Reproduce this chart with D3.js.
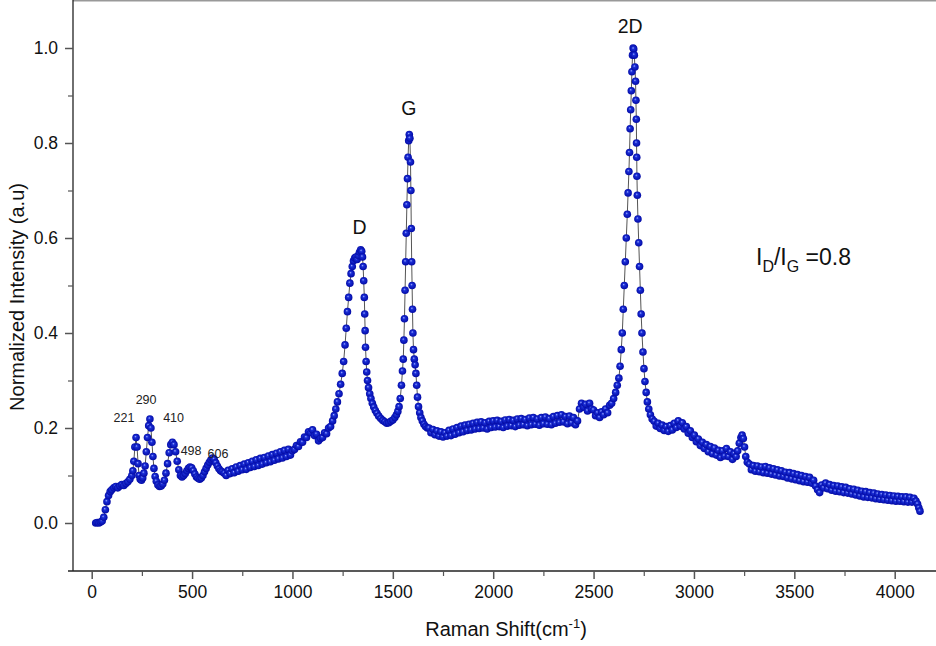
<!DOCTYPE html>
<html>
<head>
<meta charset="utf-8">
<script src="https://cdn.jsdelivr.net/npm/d3@7"></script>
<style>
  html, body { margin: 0; padding: 0; background: #fff; }
  svg { display: block; font-family: "Liberation Sans", Arial, sans-serif; }
</style>
</head>
<body>
<svg id="chart" width="936" height="646"></svg>
<script>
// ---- Data ----
const ramanShift = [
  20,28,36,44,52,60,68,76,84,92,100,110,120,130,140,150,160,170,180,190,200,
  205,210,215,221,226,231,236,242,248,254,260,266,272,278,284,290,295,300,305,310,316,322,330,338,346,354,362,370,378,386,394,402,410,418,426,434,442,450,458,466,474,482,490,498,506,514,522,530,538,546,554,562,570,578,586,594,602,610,618,626,634,642,650,660,
  670,680,690,700,710,720,730,740,750,760,770,780,790,800,810,820,830,840,850,860,870,880,890,900,910,920,930,940,950,960,970,980,990,1000,
  1010,1020,1030,1040,1050,1060,1070,1080,1090,1100,1110,1120,1130,1140,
  1150,1160,1170,1180,1190,1200,1208,1216,1224,1232,1240,1248,1255,1262,1268,1274,1280,1286,1292,1298,1304,1310,1316,1322,1328,1334,1340,1345,1349,1352,1355,1358,1360,1362,1364,1367,1370,1374,1379,1385,1391,1398,1405,1413,1421,1430,1440,1450,1460,1470,1480,1490,1500,
  1510,1518,1525,1531,1537,1543,1548,1552,1555,1558,1561,1564,1567,1570,1573,1576,1579,1582,1585,1588,1590,1592,1594,1596,1598,1600,1603,1607,1611,1615,1619,1623,1628,1634,1640,1647,1655,1663,1672,
  1680,1690,1700,1710,1720,1730,1740,1750,1760,1770,1780,1790,1800,1810,1820,1830,1840,1850,1860,1870,1880,1890,1900,1910,1920,1930,1940,1950,1960,1970,1980,1990,2000,2010,2020,2030,2040,2050,2060,2070,2080,2090,2100,2110,2120,2130,2140,2150,2160,2170,2180,2190,2200,2210,2220,2230,2240,2250,2260,2270,2280,2290,2300,2310,2320,2330,2340,2350,2360,2370,2380,2390,2400,2410,2420,
  2430,2440,2450,2460,2470,2480,2490,2500,2510,2520,2530,2540,2550,2560,2570,2580,2590,
  2600,2610,2618,2626,2632,2638,2643,2648,2653,2658,2663,2668,2672,2676,2679,2682,2685,2688,2691,2694,2697,2700,2703,2706,2709,2711,2713,2714,2715,2716,2718,2721,2725,2729,2733,2737,2741,2746,2751,2756,2762,2768,2775,2783,2792,
  2802,2812,2822,2832,2842,2852,2862,2872,2882,2892,2902,2912,2922,2932,2942,2952,2962,2972,2982,2992,3002,3012,3022,3032,3042,3052,3062,3072,3082,3092,3102,3112,3122,3132,3142,3152,3162,3172,3182,3192,3200,3210,
  3218,3226,3234,3240,3246,3252,3258,3266,
  3276,3286,3296,3306,3316,3326,3336,3346,3356,3366,3376,3386,3396,3406,3416,3426,3436,3446,3456,3466,3476,3486,3496,3506,3516,3526,3536,3546,3556,3566,3576,3586,3596,3606,3616,3626,3636,3646,3656,3666,3676,3686,3696,3706,3716,3726,3736,3746,3756,3766,3776,3786,3796,3806,3816,3826,3836,3846,3856,3866,3876,3886,3896,3906,3916,3926,3936,3946,3956,3966,3976,3986,3996,4006,4016,4026,4036,4046,4056,4066,4076,4086,4096,4106,
  4114,4120,4126
];
const intensity = [
  0.000,0.001,0.000,0.002,0.004,0.012,0.028,0.045,0.058,0.066,0.070,0.074,0.077,0.074,0.078,0.081,0.079,0.083,0.087,0.092,0.100,
  0.110,0.130,0.160,0.180,0.160,0.125,0.100,0.092,0.090,0.095,0.105,0.120,0.150,0.180,0.205,0.219,0.200,0.170,0.140,0.115,0.098,0.088,0.080,0.077,0.078,0.082,0.090,0.105,0.125,0.148,0.165,0.170,0.165,0.150,0.130,0.112,0.100,0.097,0.100,0.104,0.110,0.115,0.118,0.116,0.110,0.103,0.097,0.094,0.092,0.095,0.100,0.108,0.115,0.122,0.128,0.133,0.137,0.134,0.127,0.120,0.114,0.110,0.108,0.105,
  0.100,0.111,0.104,0.114,0.106,0.118,0.109,0.121,0.112,0.124,0.113,0.127,0.117,0.130,0.119,0.133,0.121,0.136,0.124,0.138,0.127,0.141,0.129,0.144,0.132,0.147,0.135,0.150,0.137,0.153,0.140,0.155,0.143,0.152,
  0.155,0.163,0.161,0.171,0.170,0.181,0.180,0.192,0.190,0.196,0.184,0.187,0.173,0.178,
  0.180,0.190,0.188,0.200,0.203,0.215,0.226,0.240,0.255,0.272,0.292,0.315,0.340,0.375,0.410,0.445,0.475,0.505,0.525,0.540,0.552,0.558,0.560,0.555,0.563,0.570,0.575,0.572,0.560,0.540,0.510,0.475,0.440,0.405,0.370,0.340,0.318,0.300,0.285,0.272,0.262,0.252,0.244,0.237,0.231,0.225,0.220,0.216,0.213,0.210,0.211,0.214,0.217,
  0.222,0.228,0.235,0.245,0.262,0.290,0.320,0.345,0.385,0.430,0.490,0.550,0.610,0.670,0.725,0.770,0.805,0.818,0.810,0.760,0.700,0.620,0.550,0.500,0.450,0.400,0.365,0.345,0.333,0.315,0.290,0.265,0.245,0.232,0.222,0.215,0.208,0.203,0.200,
  0.200,0.190,0.197,0.186,0.194,0.183,0.192,0.181,0.190,0.183,
  0.195,0.184,0.198,0.187,0.201,0.190,0.204,0.192,0.206,0.195,
  0.208,0.196,0.210,0.198,0.212,0.199,0.213,0.200,0.211,0.198,
  0.214,0.201,0.215,0.202,0.216,0.203,0.214,0.201,0.217,0.204,
  0.218,0.205,0.216,0.203,0.219,0.206,0.220,0.207,0.218,0.205,
  0.221,0.207,0.222,0.208,0.219,0.206,0.222,0.209,0.223,0.208,
  0.220,0.207,0.224,0.210,0.226,0.212,0.228,0.213,0.224,0.209,
  0.225,0.211,0.222,0.207,0.215,
  0.240,0.252,0.244,0.250,0.236,0.252,0.240,0.238,0.226,0.232,0.222,0.234,0.228,0.240,0.232,0.248,0.252,
  0.262,0.275,0.290,0.305,0.330,0.365,0.400,0.450,0.500,0.550,0.600,0.650,0.695,0.740,0.780,0.830,0.870,0.910,0.950,0.985,1.000,0.998,0.985,0.960,0.930,0.890,0.850,0.800,0.770,0.730,0.690,0.640,0.590,0.540,0.490,0.440,0.400,0.360,0.325,0.298,0.275,0.255,0.240,0.228,0.219,
  0.214,0.204,0.210,0.199,0.206,0.195,0.203,0.193,0.205,0.196,0.210,0.201,0.215,0.204,0.211,0.198,0.203,0.189,0.194,0.180,0.185,0.171,0.177,0.163,0.170,0.157,0.165,0.150,0.161,0.146,0.158,0.143,0.153,0.138,0.152,0.141,0.157,0.140,0.150,0.134,0.146,0.140,
  0.152,0.168,0.180,0.185,0.178,0.160,0.140,0.128,
  0.124,0.112,0.121,0.109,0.120,0.108,0.118,0.106,0.119,0.105,
  0.116,0.103,0.114,0.101,0.112,0.099,0.110,0.098,0.107,0.095,
  0.106,0.093,0.104,0.091,0.102,0.089,0.100,0.087,0.098,0.086,
  0.096,0.084,0.090,0.078,0.070,0.064,0.080,0.074,0.084,0.072,
  0.081,0.069,0.079,0.067,0.078,0.066,0.076,0.064,0.075,0.063,
  0.072,0.061,0.071,0.059,0.069,0.057,0.067,0.055,0.066,0.054,
  0.064,0.053,0.063,0.051,0.061,0.050,0.060,0.049,0.059,0.048,
  0.058,0.047,0.057,0.046,0.056,0.046,0.055,0.045,0.055,0.044,
  0.054,0.044,0.052,0.046,
  0.040,0.032,0.025
];

const xTicks = [0, 500, 1000, 1500, 2000, 2500, 3000, 3500, 4000];
const xMinorTicks = [250, 750, 1250, 1750, 2250, 2750, 3250, 3750];
const yTicks = [0.0, 0.2, 0.4, 0.6, 0.8, 1.0];
const yMinorTicks = [0.1, 0.3, 0.5, 0.7, 0.9];

const smallPeakLabels = ["221", "290", "410", "498", "606"];
const smallPeakPos = [[161, 0.2116], [271, 0.2495], [408, 0.2116], [495, 0.1442], [629, 0.1358]];
const bandLabels = ["D", "G", "2D"];
const bandPos = [[1334, 0.608], [1580, 0.859], [2682, 1.032]];

// ---- Layout ----
const svg = d3.select("#chart");
const x = d3.scaleLinear().domain([0, 4000]).range([91.7, 894.7]);
const y = d3.scaleLinear().domain([0, 1]).range([523, 48]);
const xLeft = 73, xRight = 936, yBottom = 571;

// frame lines
svg.append("line").attr("x1", xLeft).attr("x2", xRight).attr("y1", 0.5).attr("y2", 0.5)
  .attr("stroke", "#999").attr("stroke-width", 2);
svg.append("line").attr("x1", xLeft).attr("x2", xLeft).attr("y1", 0).attr("y2", yBottom)
  .attr("stroke", "#222").attr("stroke-width", 1.3);
svg.append("line").attr("x1", 68).attr("x2", xRight).attr("y1", yBottom).attr("y2", yBottom)
  .attr("stroke", "#222").attr("stroke-width", 1.3);

// x axis
const xAxisG = svg.append("g").attr("transform", `translate(0,${yBottom})`)
  .call(d3.axisBottom(x).tickValues(xTicks).tickSize(8).tickPadding(7).tickFormat(d3.format("d")));
xAxisG.select(".domain").remove();
xAxisG.selectAll(".tick line").attr("stroke", "#555").attr("stroke-width", 1.5);
xAxisG.selectAll(".tick text").attr("font-size", 17.5).attr("fill", "#111")
  .attr("font-family", "Liberation Sans, Arial, sans-serif");
const xMinorG = svg.append("g").attr("transform", `translate(0,${yBottom})`)
  .call(d3.axisBottom(x).tickValues(xMinorTicks).tickSize(5).tickFormat(""));
xMinorG.select(".domain").remove();
xMinorG.selectAll(".tick line").attr("stroke", "#555").attr("stroke-width", 1.2);

// y axis
const yAxisG = svg.append("g").attr("transform", `translate(${xLeft},0)`)
  .call(d3.axisLeft(y).tickValues(yTicks).tickSize(8).tickPadding(7).tickFormat(d3.format(".1f")));
yAxisG.select(".domain").remove();
yAxisG.selectAll(".tick line").attr("stroke", "#555").attr("stroke-width", 1.5);
yAxisG.selectAll(".tick text").attr("font-size", 17.5).attr("fill", "#111")
  .attr("font-family", "Liberation Sans, Arial, sans-serif");
const yMinorG = svg.append("g").attr("transform", `translate(${xLeft},0)`)
  .call(d3.axisLeft(y).tickValues(yMinorTicks).tickSize(5).tickFormat(""));
yMinorG.select(".domain").remove();
yMinorG.selectAll(".tick line").attr("stroke", "#555").attr("stroke-width", 1.2);

// axis titles
svg.append("text").attr("transform", "translate(24,297) rotate(-90)")
  .attr("text-anchor", "middle").attr("font-size", 20).attr("fill", "#111")
  .text("Normalized Intensity (a.u)");
const xt = svg.append("text").attr("x", 506).attr("y", 636)
  .attr("text-anchor", "middle").attr("font-size", 20).attr("fill", "#111");
xt.append("tspan").text("Raman Shift(cm");
xt.append("tspan").attr("font-size", 13).attr("dy", -8).text("-1");
xt.append("tspan").attr("dy", 8).text(")");

// gradient for sphere-like markers
const defs = svg.append("defs");
const grad = defs.append("radialGradient").attr("id", "ball")
  .attr("cx", "50%").attr("cy", "50%").attr("r", "55%").attr("fx", "40%").attr("fy", "35%");
grad.append("stop").attr("offset", "0%").attr("stop-color", "#a0acff");
grad.append("stop").attr("offset", "30%").attr("stop-color", "#1a2ed6");
grad.append("stop").attr("offset", "100%").attr("stop-color", "#0006a0");

const n = Math.min(ramanShift.length, intensity.length);
const data = ramanShift.slice(0, n).map((r, i) => ({ r, v: intensity[i] }));

// connecting line
svg.append("path").datum(data)
  .attr("fill", "none").attr("stroke", "#555").attr("stroke-width", 1)
  .attr("d", d3.line().x(d => x(d.r)).y(d => y(d.v)));

// markers
svg.append("g").selectAll("circle").data(data).join("circle")
  .attr("cx", d => x(d.r)).attr("cy", d => y(d.v)).attr("r", 3.8)
  .attr("fill", "url(#ball)");

// small peak labels
svg.append("g").selectAll("text").data(smallPeakLabels).join("text")
  .attr("x", (d, i) => x(smallPeakPos[i][0]))
  .attr("y", (d, i) => y(smallPeakPos[i][1]))
  .attr("text-anchor", "middle").attr("font-size", 12.5).attr("fill", "#222")
  .text(d => d);

// band labels
svg.append("g").selectAll("text").data(bandLabels).join("text")
  .attr("x", (d, i) => x(bandPos[i][0]))
  .attr("y", (d, i) => y(bandPos[i][1]))
  .attr("text-anchor", "middle").attr("font-size", 19.5).attr("fill", "#111")
  .text(d => d);

// ratio annotation
const ra = svg.append("text").attr("x", 756).attr("y", 265)
  .attr("font-size", 23).attr("fill", "#111");
ra.append("tspan").text("I");
ra.append("tspan").attr("font-size", 16).attr("dy", 7).text("D");
ra.append("tspan").attr("dy", -7).text("/I");
ra.append("tspan").attr("font-size", 16).attr("dy", 7).text("G");
ra.append("tspan").attr("dy", -7).text(" =0.8");
</script>
</body>
</html>
